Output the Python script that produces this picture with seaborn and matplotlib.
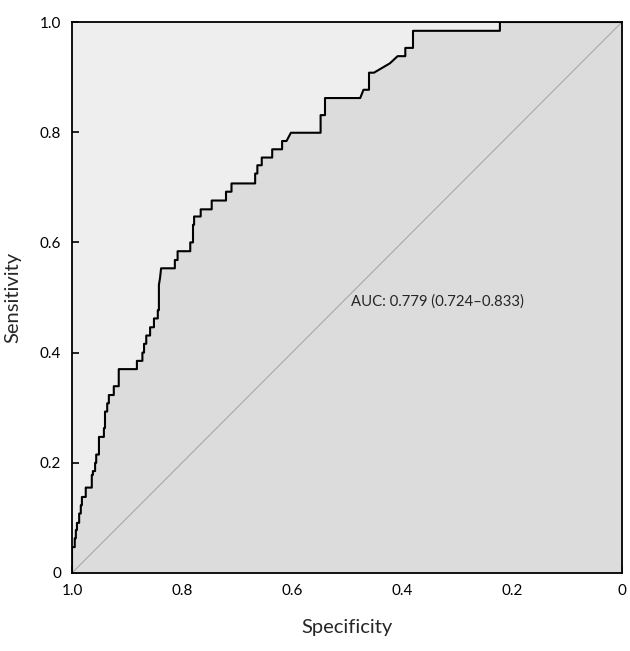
import numpy as np
import pandas as pd
import seaborn as sns
import matplotlib.pyplot as plt

# ROC curve vertices, x = 1 - specificity
fpr = [0.000, 0.000, 0.005, 0.005, 0.007, 0.007, 0.009, 0.009, 0.013, 0.013,
       0.016, 0.016, 0.018, 0.018, 0.025, 0.025, 0.036, 0.036, 0.038, 0.038,
       0.042, 0.042, 0.044, 0.044, 0.049, 0.049, 0.058, 0.058, 0.060, 0.060,
       0.064, 0.064, 0.067, 0.067, 0.076, 0.076, 0.085, 0.085, 0.118, 0.118,
       0.128, 0.128, 0.131, 0.131, 0.135, 0.135, 0.142, 0.142, 0.149, 0.149,
       0.156, 0.156, 0.158, 0.158, 0.160, 0.162, 0.187, 0.187, 0.192, 0.192,
       0.215, 0.215, 0.220, 0.220, 0.222, 0.222, 0.234, 0.234, 0.254, 0.254,
       0.280, 0.280, 0.290, 0.290, 0.333, 0.333, 0.337, 0.337, 0.345, 0.345,
       0.364, 0.364, 0.382, 0.382, 0.390, 0.398, 0.452, 0.452, 0.460, 0.460,
       0.524, 0.530, 0.540, 0.540, 0.549, 0.578, 0.592, 0.606, 0.606, 0.620,
       0.620, 0.778, 0.778, 1.000]
sensitivity = [0.000, 0.047, 0.047, 0.063, 0.063, 0.078, 0.078, 0.091, 0.091, 0.108,
               0.108, 0.123, 0.123, 0.138, 0.138, 0.155, 0.155, 0.178, 0.178, 0.185,
               0.185, 0.200, 0.200, 0.215, 0.215, 0.247, 0.247, 0.263, 0.263, 0.293,
               0.293, 0.308, 0.308, 0.323, 0.323, 0.339, 0.339, 0.370, 0.370, 0.385,
               0.385, 0.400, 0.400, 0.416, 0.416, 0.431, 0.431, 0.446, 0.446, 0.462,
               0.462, 0.477, 0.477, 0.523, 0.535, 0.553, 0.553, 0.568, 0.568, 0.584,
               0.584, 0.600, 0.600, 0.632, 0.632, 0.647, 0.647, 0.660, 0.660, 0.676,
               0.676, 0.692, 0.692, 0.707, 0.707, 0.725, 0.725, 0.740, 0.740, 0.754,
               0.754, 0.769, 0.769, 0.784, 0.784, 0.799, 0.799, 0.831, 0.831, 0.862,
               0.862, 0.877, 0.877, 0.908, 0.908, 0.925, 0.938, 0.938, 0.953, 0.953,
               0.984, 0.984, 1.000, 1.000]
specificity = [round(1 - f, 3) for f in fpr]

chance = [0.0, 1.0]
x_ticks = [1.0, 0.8, 0.6, 0.4, 0.2, 0.0]
x_ticklabels = ["1.0", "0.8", "0.6", "0.4", "0.2", "0"]
y_ticks = [0.0, 0.2, 0.4, 0.6, 0.8, 1.0]
y_ticklabels = ["0", "0.2", "0.4", "0.6", "0.8", "1.0"]
auc_label = "AUC: 0.779 (0.724\u20130.833)"

df = pd.DataFrame({"Specificity": specificity, "Sensitivity": sensitivity})

sns.set_style("white")
plt.rcParams['font.family'] = ['Lato', 'DejaVu Sans']

fig = plt.figure(figsize=(6.30, 6.51), dpi=100)
ax = fig.add_axes([72 / 630, 1 - 573 / 651, 550 / 630, 551 / 651])
ax.set_facecolor("#eeeeee")

# area under the curve
ax.fill_between(df["Specificity"], df["Sensitivity"], 0, color="#dcdcdc", linewidth=0)
# chance line
ax.plot([1 - c for c in chance], chance, color="#a8a8a8", linewidth=0.8)
# ROC curve
sns.lineplot(data=df, x="Specificity", y="Sensitivity", sort=False, estimator=None,
             color="black", linewidth=1.5, ax=ax)

ax.text(0.493, 0.492, auc_label, fontsize=10.7, ha="left", va="center")

ax.set_xlim(1.0, 0.0)
ax.set_ylim(0.0, 1.0)
ax.set_xticks(x_ticks)
ax.set_xticklabels(x_ticklabels)
ax.set_yticks(y_ticks)
ax.set_yticklabels(y_ticklabels)
ax.tick_params(direction="in", length=5, width=1.2, labelsize=11, pad=8,
               bottom=True, left=True, colors="black")
for s in ax.spines.values():
    s.set_color("black")
    s.set_linewidth(1.3)

ax.set_xlabel("Specificity", fontsize=14.5, labelpad=15)
ax.set_ylabel("Sensitivity", fontsize=14.5, labelpad=13)

fig.savefig("out.png", dpi=100)
